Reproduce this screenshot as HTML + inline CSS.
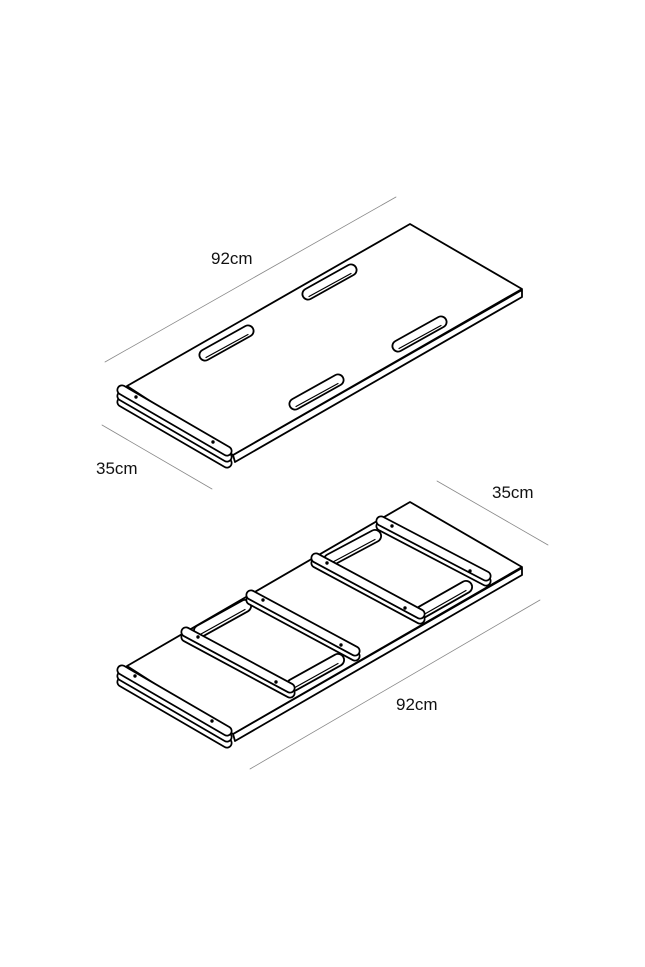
<!DOCTYPE html>
<html><head><meta charset="utf-8"><style>
html,body{margin:0;padding:0;background:#fff}
svg{display:block}
text{font-family:"Liberation Sans",sans-serif;font-size:17px;fill:#111}
</style></head><body>
<svg width="645" height="967" viewBox="0 0 645 967" xmlns="http://www.w3.org/2000/svg">
<g stroke-linecap="round" stroke-linejoin="round">
<g stroke="#888" stroke-width="0.8">
<line x1="105" y1="362" x2="396" y2="197"/>
<line x1="102" y1="425" x2="212" y2="489"/>
<line x1="437" y1="481" x2="548" y2="545"/>
<line x1="250" y1="769" x2="540" y2="600"/>
</g>

<!-- TOP BOARD -->
<polygon points="233,455 522,290 522,297 235,462" fill="#fff" stroke="#000" stroke-width="1.8"/>
<polygon points="127,386 410,224 522,289 233,455" fill="#fff" stroke="#000" stroke-width="1.8"/>
<g>
<line x1="205" y1="355" x2="248" y2="331" stroke="#000" stroke-width="13"/>
<line x1="205" y1="355" x2="248" y2="331" stroke="#fff" stroke-width="9.4"/>
<line x1="206" y1="357.5" x2="248" y2="334.5" stroke="#000" stroke-width="1.2"/>
<line x1="308" y1="294" x2="351" y2="270" stroke="#000" stroke-width="13"/>
<line x1="308" y1="294" x2="351" y2="270" stroke="#fff" stroke-width="9.4"/>
<line x1="309" y1="296.5" x2="351" y2="273.5" stroke="#000" stroke-width="1.2"/>
<line x1="398" y1="346" x2="441" y2="322" stroke="#000" stroke-width="13"/>
<line x1="398" y1="346" x2="441" y2="322" stroke="#fff" stroke-width="9.4"/>
<line x1="399" y1="348.5" x2="441" y2="325.5" stroke="#000" stroke-width="1.2"/>
<line x1="295" y1="404" x2="338" y2="380" stroke="#000" stroke-width="13"/>
<line x1="295" y1="404" x2="338" y2="380" stroke="#fff" stroke-width="9.4"/>
<line x1="296" y1="406.5" x2="338" y2="383.5" stroke="#000" stroke-width="1.2"/>
</g>
<g>
<line x1="122" y1="402" x2="227" y2="463" stroke="#000" stroke-width="11"/>
<line x1="122" y1="402" x2="227" y2="463" stroke="#fff" stroke-width="7.5"/>
<line x1="122" y1="396" x2="227" y2="457" stroke="#000" stroke-width="11"/>
<line x1="122" y1="396" x2="227" y2="457" stroke="#fff" stroke-width="7.5"/>
<line x1="122" y1="390" x2="227" y2="451" stroke="#000" stroke-width="11"/>
<line x1="122" y1="390" x2="227" y2="451" stroke="#fff" stroke-width="7.5"/>
<circle cx="136" cy="397" r="1.7" fill="#000"/>
<circle cx="213" cy="442" r="1.7" fill="#000"/>
</g>
<text x="211" y="264">92cm</text>
<text x="96" y="474">35cm</text>

<!-- BOTTOM BOARD -->
<polygon points="233,734 522,568 522,575 235,741" fill="#fff" stroke="#000" stroke-width="1.8"/>
<polygon points="127,666 410,502 522,567 233,734" fill="#fff" stroke="#000" stroke-width="1.8"/>
<g>
<line x1="200" y1="631" x2="245" y2="606" stroke="#000" stroke-width="14"/>
<line x1="200" y1="631" x2="245" y2="606" stroke="#fff" stroke-width="10.4"/>
<line x1="201" y1="634" x2="245" y2="609.5" stroke="#000" stroke-width="1.2"/>
<line x1="293" y1="685" x2="338" y2="660" stroke="#000" stroke-width="14"/>
<line x1="293" y1="685" x2="338" y2="660" stroke="#fff" stroke-width="10.4"/>
<line x1="294" y1="688" x2="338" y2="663.5" stroke="#000" stroke-width="1.2"/>
<line x1="330" y1="560" x2="375" y2="536" stroke="#000" stroke-width="14"/>
<line x1="330" y1="560" x2="375" y2="536" stroke="#fff" stroke-width="10.4"/>
<line x1="331" y1="563" x2="375" y2="539.5" stroke="#000" stroke-width="1.2"/>
<line x1="422" y1="612" x2="466" y2="587" stroke="#000" stroke-width="14"/>
<line x1="422" y1="612" x2="466" y2="587" stroke="#fff" stroke-width="10.4"/>
<line x1="423" y1="615" x2="466" y2="590.5" stroke="#000" stroke-width="1.2"/>
</g>
<g>
<line x1="381" y1="526" x2="486" y2="581" stroke="#000" stroke-width="11"/>
<line x1="381" y1="526" x2="486" y2="581" stroke="#fff" stroke-width="7.5"/>
<line x1="381" y1="521" x2="486" y2="576" stroke="#000" stroke-width="11"/>
<line x1="381" y1="521" x2="486" y2="576" stroke="#fff" stroke-width="7.5"/>
<circle cx="392" cy="526" r="1.7" fill="#000"/><circle cx="470" cy="571" r="1.7" fill="#000"/>

<line x1="316" y1="563" x2="420" y2="619" stroke="#000" stroke-width="11"/>
<line x1="316" y1="563" x2="420" y2="619" stroke="#fff" stroke-width="7.5"/>
<line x1="316" y1="558" x2="420" y2="614" stroke="#000" stroke-width="11"/>
<line x1="316" y1="558" x2="420" y2="614" stroke="#fff" stroke-width="7.5"/>
<circle cx="327" cy="563" r="1.7" fill="#000"/><circle cx="405" cy="608" r="1.7" fill="#000"/>

<line x1="251" y1="600" x2="355" y2="656" stroke="#000" stroke-width="11"/>
<line x1="251" y1="600" x2="355" y2="656" stroke="#fff" stroke-width="7.5"/>
<line x1="251" y1="595" x2="355" y2="651" stroke="#000" stroke-width="11"/>
<line x1="251" y1="595" x2="355" y2="651" stroke="#fff" stroke-width="7.5"/>
<circle cx="263" cy="600" r="1.7" fill="#000"/><circle cx="341" cy="645" r="1.7" fill="#000"/>

<line x1="186" y1="637" x2="290" y2="693" stroke="#000" stroke-width="11"/>
<line x1="186" y1="637" x2="290" y2="693" stroke="#fff" stroke-width="7.5"/>
<line x1="186" y1="632" x2="290" y2="688" stroke="#000" stroke-width="11"/>
<line x1="186" y1="632" x2="290" y2="688" stroke="#fff" stroke-width="7.5"/>
<circle cx="198" cy="637" r="1.7" fill="#000"/><circle cx="276" cy="682" r="1.7" fill="#000"/>
</g>
<g>
<line x1="122" y1="682" x2="227" y2="743" stroke="#000" stroke-width="11"/>
<line x1="122" y1="682" x2="227" y2="743" stroke="#fff" stroke-width="7.5"/>
<line x1="122" y1="676" x2="227" y2="737" stroke="#000" stroke-width="11"/>
<line x1="122" y1="676" x2="227" y2="737" stroke="#fff" stroke-width="7.5"/>
<line x1="122" y1="670" x2="227" y2="731" stroke="#000" stroke-width="11"/>
<line x1="122" y1="670" x2="227" y2="731" stroke="#fff" stroke-width="7.5"/>
<circle cx="135" cy="676" r="1.7" fill="#000"/>
<circle cx="212" cy="721" r="1.7" fill="#000"/>
</g>
<text x="492" y="498">35cm</text>
<text x="396" y="710">92cm</text>
</g>
</svg>
</body></html>
